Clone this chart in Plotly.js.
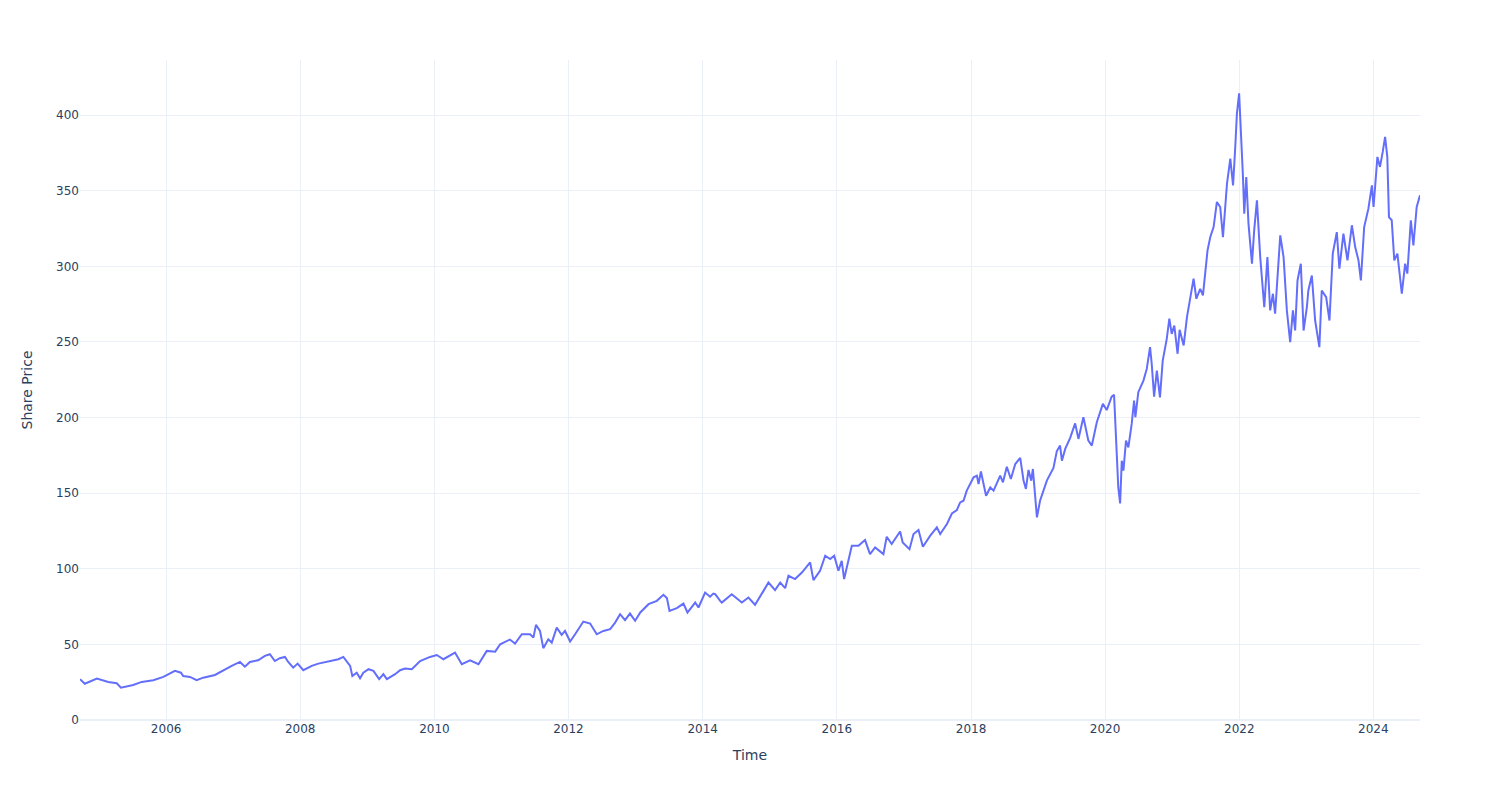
<!DOCTYPE html>
<html>
<head>
<meta charset="utf-8">
<script src="https://cdn.plot.ly/plotly-3.0.1.min.js"></script>
<style>html,body{margin:0;padding:0;background:#fff;}#chart{width:1500px;height:800px;}</style>
</head>
<body>
<div id="chart"></div>
<script>
const dates = [
"2004-09-19","2004-10-15","2004-12-20","2005-02-20","2005-04-07","2005-04-30","2005-07-06","2005-08-21","2005-10-23","2005-12-17",
"2006-02-18","2006-03-23","2006-04-04","2006-05-11","2006-06-16","2006-07-22","2006-09-24","2006-11-17","2006-12-24",
"2007-02-07","2007-03-06","2007-04-02","2007-05-17","2007-06-23","2007-07-20","2007-08-16","2007-09-12","2007-10-10","2007-10-28","2007-11-24","2007-12-18",
"2008-01-18","2008-03-04","2008-04-09","2008-06-03","2008-07-27","2008-08-23","2008-09-11","2008-09-29","2008-10-11","2008-11-04","2008-11-22","2008-12-10",
"2009-01-07","2009-02-03","2009-03-06","2009-03-29","2009-04-17","2009-06-01","2009-06-28","2009-07-25","2009-08-31","2009-10-15","2009-12-08",
"2010-01-14","2010-02-19","2010-04-23","2010-05-30","2010-07-14","2010-08-29","2010-10-13","2010-11-28","2010-12-25",
"2011-02-16","2011-03-16","2011-04-22","2011-06-06","2011-06-24","2011-07-08","2011-07-30","2011-08-17","2011-09-13","2011-10-02","2011-10-29","2011-11-25","2011-12-13",
"2012-01-10","2012-02-06","2012-03-22","2012-04-28","2012-06-03","2012-07-09","2012-08-15","2012-09-11","2012-10-08","2012-11-04","2012-12-01","2012-12-29",
"2013-01-26","2013-03-12","2013-04-26","2013-06-01","2013-06-20","2013-07-04","2013-08-13","2013-09-18","2013-10-10","2013-11-21","2013-12-09",
"2014-01-14","2014-02-10","2014-02-28","2014-03-10","2014-04-06","2014-04-15","2014-06-08","2014-08-02","2014-09-07","2014-10-13","2014-11-28","2014-12-25",
"2015-01-30","2015-02-27","2015-03-26","2015-04-13","2015-05-19","2015-06-25","2015-08-09","2015-08-27","2015-10-02","2015-10-30","2015-11-26","2015-12-18",
"2016-01-10","2016-01-28","2016-02-10","2016-03-23","2016-04-28","2016-06-03","2016-06-30","2016-07-28","2016-09-11","2016-09-29","2016-10-26","2016-12-11","2016-12-25",
"2017-01-31","2017-02-22","2017-03-21","2017-04-14","2017-05-24","2017-06-29","2017-07-17","2017-08-23","2017-09-19","2017-10-16","2017-11-03","2017-11-21","2017-12-09",
"2018-01-15","2018-02-02","2018-02-11","2018-02-24","2018-03-24","2018-04-16","2018-05-04","2018-06-09","2018-06-24","2018-07-15","2018-08-06","2018-08-30","2018-09-26","2018-10-14","2018-10-27","2018-11-10","2018-11-25","2018-12-04","2018-12-26",
"2019-01-12","2019-02-18","2019-03-26","2019-04-13","2019-05-01","2019-05-11","2019-05-29","2019-06-25","2019-07-22","2019-08-09","2019-09-05","2019-10-02","2019-10-21","2019-11-17","2019-12-20",
"2020-01-10","2020-02-06","2020-02-19","2020-03-01","2020-03-13","2020-03-23","2020-04-01","2020-04-10","2020-04-24","2020-05-07","2020-05-25","2020-06-07","2020-06-14","2020-06-30","2020-07-28","2020-08-15","2020-09-02","2020-09-11","2020-09-24","2020-10-09","2020-10-26","2020-11-10","2020-12-02","2020-12-16","2020-12-29",
"2021-01-12","2021-01-30","2021-02-10","2021-03-04","2021-03-22","2021-04-09","2021-04-27","2021-05-12","2021-06-02","2021-06-17","2021-06-30","2021-07-12","2021-07-27","2021-08-14","2021-09-01","2021-09-19","2021-10-04","2021-10-17","2021-10-26","2021-11-13","2021-11-28","2021-12-10","2021-12-19","2021-12-31",
"2022-01-10","2022-01-21","2022-01-28","2022-02-08","2022-02-20","2022-03-11","2022-03-23","2022-04-07","2022-04-25","2022-05-17","2022-06-03","2022-06-18","2022-07-03","2022-07-15","2022-08-12","2022-08-30","2022-09-17","2022-10-05","2022-10-20","2022-11-01","2022-11-14","2022-12-02","2022-12-17",
"2023-01-04","2023-01-12","2023-01-31","2023-02-18","2023-03-13","2023-03-26","2023-04-19","2023-05-07","2023-05-25","2023-06-16","2023-06-30","2023-07-22","2023-08-13","2023-09-06","2023-09-24","2023-10-12","2023-10-25","2023-11-12","2023-12-05","2023-12-24",
"2024-01-02","2024-01-23","2024-02-06","2024-02-21","2024-03-05","2024-03-17","2024-03-26","2024-04-10","2024-04-24","2024-05-11","2024-06-04","2024-06-22","2024-07-04","2024-07-23","2024-08-06","2024-08-24","2024-09-11"
];
const sharePrice = [
27,24,27.4,25.2,24.3,21.4,23.2,25.2,26.3,28.5,
32.5,31.3,29.1,28.5,26.3,28,29.8,33.6,35.8,
38.4,35.3,38.4,39.5,42.4,43.5,39,40.9,41.7,38.4,34.6,37.3,
32.9,35.8,37.3,39,40.2,41.7,39,35.8,29.1,31.3,27.6,31.3,
33.6,32.5,27,30.3,27,30.3,32.9,34,33.6,39,41.7,
43,40.2,44.6,36.9,39.5,36.9,45.7,45.2,50.1,
53.2,50.5,56.7,56.7,54.5,62.9,58.9,47.5,53.4,51.2,61.1,56.3,58.9,
51.9,56.7,65.1,63.8,56.7,58.9,60.1,64.4,70,66,70.4,65.6,
71.1,76.6,78.8,82.8,80.6,72.2,74,77,71.1,77.7,74.4,
84.3,81.5,83.6,83.2,78.8,77.7,83.2,77.7,81,76.2,85.4,90.9,
85.9,90.9,87.2,95.4,93.2,97.5,104.2,92.5,98.7,108.6,106.4,108.6,
98.7,105.3,93.2,115.2,115.2,119,109.7,114.1,109.7,121.2,116.4,124.7,117.4,
113,123,125.6,114.6,121.9,127.4,123,129.6,136.6,138.9,143.9,145,151.7,
160.5,161.6,156.1,164.4,148.3,153.8,151.7,161.6,157.2,167.5,159.4,169.3,173.3,158.3,152.8,165.4,158.3,166,134,
145,158.3,166.7,177.7,181.5,171.5,179.3,186.6,196.2,185.9,200.2,184.8,181.5,196.9,209.1,
205,213.9,215,180.3,153.8,143.2,171.5,164.9,184.8,180.3,195.8,211.3,200.2,216.8,224.5,232.2,246.6,235.6,213.9,231.1,213.4,237.7,252.1,265.4,255.4,
260.9,242.2,258.1,247.7,266.4,279.7,291.9,278.6,285.2,280.8,295.2,310.6,319.4,326,342.6,339.3,319.4,341.5,354.8,371.3,353.6,379,401.1,414.4,
392.3,359.1,334.9,359.1,328.3,301.8,323.8,343.7,306,273,306.2,270.9,281.9,268.7,320.5,306.2,270.9,249.9,270.9,257.6,290.7,301.8,257.6,
273,284.1,294,264.2,246.6,284.1,279.7,264.2,308.4,322.7,298.5,321.6,304,327.2,312.8,304,290.7,326,338.2,353.6,
339.3,372.4,365.8,375.7,385.7,372.4,332.6,330.5,304,308.4,281.9,301.8,295.2,330.5,313.9,339.3,347
];
const yTicks = [0,50,100,150,200,250,300,350,400];

const trace = {
  x: dates,
  y: sharePrice,
  type: 'scatter',
  mode: 'lines',
  line: {color: '#636efa', width: 2},
  showlegend: false
};
const fontFam = '"DejaVu Sans", Verdana, sans-serif';
const layout = {
  width: 1500, height: 800,
  template: 'plotly_white',
  paper_bgcolor: '#ffffff', plot_bgcolor: '#ffffff',
  font: {family: fontFam, size: 12, color: '#2a3f5f'},
  margin: {l: 80, r: 80, t: 60, b: 80},
  xaxis: {
    type: 'date',
    title: {text: 'Time', font: {size: 14}, standoff: 15},
    gridcolor: '#EBF0F8', showline: false, zeroline: false,
    ticks: '', dtick: 'M24', tick0: '2006-01-01', tickformat: '%Y',
    autorange: true
  },
  yaxis: {
    title: {text: 'Share Price', font: {size: 14}, standoff: 20},
    range: [0, 436.5],
    tickvals: yTicks,
    gridcolor: '#EBF0F8', zeroline: true, zerolinecolor: '#EBF0F8', zerolinewidth: 2,
    ticks: '', showline: false
  },
  hovermode: 'x'
};
Plotly.newPlot('chart', [trace], layout, {displayModeBar: false});
</script>
</body>
</html>
